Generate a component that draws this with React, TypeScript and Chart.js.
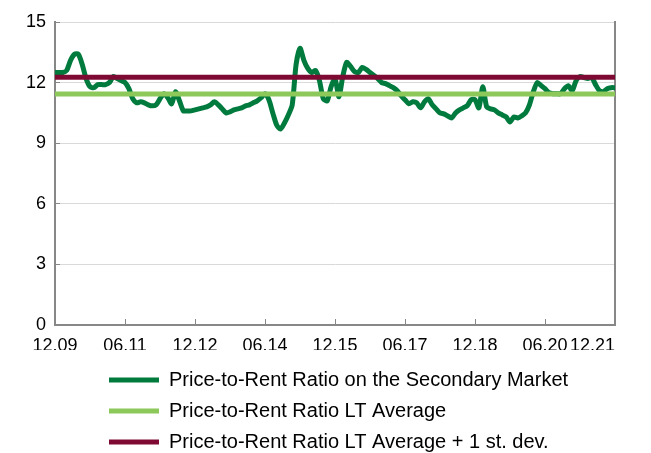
import React, { useEffect, useRef } from "react";
import { Chart, registerables } from "chart.js";

Chart.register(...registerables);

const TICK_LABELS = ["12.09", "06.11", "12.12", "06.14", "12.15", "06.17", "12.18", "06.20", "12.21"];
const MONTHS_PER_TICK = 18;

const SERIES_NAMES = [
  "Price-to-Rent Ratio on the Secondary Market",
  "Price-to-Rent Ratio LT Average",
  "Price-to-Rent Ratio LT Average + 1 st. dev.",
];

// monthly, 12.09 .. 12.21
const RATIO = [
  12.5, 12.5, 12.5, 12.6, 13.1, 13.4, 13.4, 12.9, 12.2, 11.8,
  11.75, 11.9, 11.9, 11.9, 12.0, 12.3, 12.2, 12.1, 12.0, 11.7,
  11.2, 11.0, 11.05, 11.0, 10.9, 10.85, 10.9, 11.2, 11.45, 11.25,
  10.95, 11.55, 11.1, 10.6, 10.6, 10.6, 10.65, 10.7, 10.75, 10.8,
  10.9, 11.05, 10.9, 10.7, 10.5, 10.55, 10.65, 10.7, 10.75, 10.85,
  10.9, 11.0, 11.1, 11.25, 11.45, 11.15, 10.5, 9.9, 9.7, 10.0,
  10.4, 10.9, 12.9, 13.7, 13.1, 12.7, 12.5, 12.6, 12.1, 11.2,
  11.1, 11.8, 12.2, 11.3, 12.3, 13.0, 12.8, 12.55, 12.5, 12.75,
  12.65, 12.5, 12.35, 12.2, 12.0, 11.95, 11.85, 11.75, 11.6, 11.35,
  11.15, 10.95, 11.05, 11.0, 10.75, 11.05, 11.2, 10.9, 10.7, 10.5,
  10.45, 10.35, 10.25, 10.5, 10.65, 10.75, 10.85, 11.15, 11.15, 10.75,
  11.8, 10.8, 10.7, 10.65, 10.5, 10.4, 10.3, 10.05, 10.3, 10.25,
  10.35, 10.5, 10.9, 11.55, 12.0, 11.85, 11.7, 11.5, 11.45, 11.45,
  11.45, 11.7, 11.85, 11.6, 12.1, 12.3, 12.25, 12.2, 12.25, 11.9,
  11.6, 11.55, 11.7, 11.75, 11.75,
];

const LT_AVERAGE = 11.43;
const LT_AVERAGE_PLUS_SD = 12.26;

const FONT_FAMILY = "'Liberation Sans', Arial, sans-serif";
const AXIS_GRAY = "#878787";

const adjustPlugin = {
  id: "adjust",
  afterLayout(chart: any) {
    const lg = chart.legend;
    if (lg) {
      const w = lg.right - lg.left;
      lg.left = 90;
      lg.right = 90 + w;
      const h = lg.bottom - lg.top;
      lg.top = 351;
      lg.bottom = 351 + h;
    }
  },
  beforeDraw(chart: any) {
    const s = chart.scales.x;
    const items = s.getLabelItems(chart.chartArea);
    if (items && items.length) {
      items[items.length - 1].options.textAlign = "right";
    }
  },
};

export default function App() {
  const ref = useRef<HTMLCanvasElement>(null);

  useEffect(() => {
    if (!ref.current) return;
    const last = RATIO.length - 1;
    const chart = new Chart(ref.current, {
      type: "line",
      data: {
        datasets: [
          {
            label: SERIES_NAMES[0],
            data: RATIO.map((v, i) => ({ x: i, y: v })),
            borderColor: "#007A3D",
            backgroundColor: "#007A3D",
            borderWidth: 5,
            borderCapStyle: "round",
            pointRadius: 0,
            tension: 0.25,
            order: 3,
          },
          {
            label: SERIES_NAMES[1],
            data: [
              { x: 0, y: LT_AVERAGE },
              { x: last, y: LT_AVERAGE },
            ],
            borderColor: "#8DC85A",
            backgroundColor: "#8DC85A",
            borderWidth: 5,
            borderCapStyle: "round",
            pointRadius: 0,
            order: 2,
          },
          {
            label: SERIES_NAMES[2],
            data: [
              { x: 0, y: LT_AVERAGE_PLUS_SD },
              { x: last, y: LT_AVERAGE_PLUS_SD },
            ],
            borderColor: "#7E0A33",
            backgroundColor: "#7E0A33",
            borderWidth: 5,
            borderCapStyle: "round",
            pointRadius: 0,
            order: 1,
          },
        ],
      },
      options: {
        animation: false,
        responsive: true,
        maintainAspectRatio: false,
        layout: { padding: { top: 14, right: 27, left: 0, bottom: 0 } },
        plugins: {
          tooltip: { enabled: false },
          legend: {
            position: "bottom",
            align: "start",
            labels: {
              usePointStyle: true,
              pointStyle: "line",
              pointStyleWidth: 50,
              padding: 11,
              color: "#000",
              font: { family: FONT_FAMILY, size: 20 },
              sort: (a: any, b: any) => a.datasetIndex - b.datasetIndex,
            },
          },
        },
        scales: {
          x: {
            type: "linear",
            min: 0,
            max: last,
            afterFit: (s: any) => {
              s.height = 25;
              s.paddingLeft = 20;
              s.paddingRight = 20;
            },
            ticks: {
              stepSize: MONTHS_PER_TICK,
              autoSkip: false,
              maxRotation: 0,
              padding: 16,
              color: "#000",
              font: { family: FONT_FAMILY, size: 18 },
              callback: (v: any) => TICK_LABELS[Math.round(Number(v) / MONTHS_PER_TICK)] ?? "",
            },
            grid: {
              drawOnChartArea: false,
              drawTicks: true,
              tickLength: -6,
              tickColor: AXIS_GRAY,
              tickWidth: 1,
            },
            border: { color: AXIS_GRAY, width: 2 },
          },
          y: {
            min: 0,
            max: 15,
            afterFit: (s: any) => {
              s.width = 47;
              s.paddingTop = 0;
              s.paddingBottom = 0;
            },
            ticks: {
              stepSize: 3,
              padding: 14,
              color: "#000",
              font: { family: FONT_FAMILY, size: 18 },
            },
            grid: {
              color: "#D9D9D9",
              lineWidth: 1,
              drawTicks: true,
              tickLength: -5,
              tickColor: AXIS_GRAY,
              tickWidth: 1,
            },
            border: { color: AXIS_GRAY, width: 2 },
          },
          y2: {
            position: "right",
            min: 0,
            max: 15,
            afterFit: (s: any) => {
              s.width = 1;
              s.paddingTop = 0;
              s.paddingBottom = 0;
            },
            ticks: { display: false },
            grid: { drawOnChartArea: false, drawTicks: false },
            border: { color: AXIS_GRAY, width: 2 },
          },
        },
      },
      plugins: [adjustPlugin],
    });
    return () => chart.destroy();
  }, []);

  return (
    <div style={{ width: 635, height: 445, position: "relative" }}>
      <canvas ref={ref} />
    </div>
  );
}
